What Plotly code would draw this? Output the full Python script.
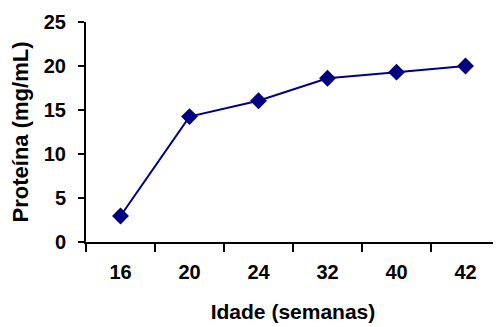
import plotly.graph_objects as go

categories = ["16", "20", "24", "32", "40", "42"]
values = [2.95, 14.25, 16.05, 18.6, 19.3, 20.0]
y_ticks = [0, 5, 10, 15, 20, 25]

navy = "#000080"
font_family = "Liberation Sans, Arial, sans-serif"

fig = go.Figure()
fig.add_trace(go.Scatter(
    x=categories, y=values, mode="lines+markers",
    line=dict(color=navy, width=2),
    marker=dict(symbol="diamond", size=13, color=navy),
    showlegend=False,
))

# page body has an 8px margin, so the figure is sized to end at the window edge
fig.update_layout(
    width=493, height=319,
    margin=dict(l=78, r=1, t=14, b=85),
    paper_bgcolor="white", plot_bgcolor="white",
    font=dict(family=font_family, size=20, color="black", weight="bold"),
)
fig.update_xaxes(
    type="category", range=[-0.5, 5.5], automargin=False,
    tickson="boundaries", ticks="outside", ticklen=8, tickwidth=2, tickcolor="black",
    showline=True, linecolor="black", linewidth=2, showgrid=False, zeroline=False,
    tickfont=dict(family=font_family, size=20, color="black", weight="bold"),
    ticklabelstandoff=11,
    title=dict(text="<b>Idade (semanas)</b>", font=dict(size=21, weight="bold"), standoff=22),
)
fig.update_yaxes(
    range=[0, 25], tickvals=y_ticks, automargin=False,
    ticks="outside", ticklen=6, tickwidth=2, tickcolor="black",
    showline=True, linecolor="black", linewidth=2, showgrid=False, zeroline=False,
    tickfont=dict(family=font_family, size=20, color="black", weight="bold"),
    ticklabelstandoff=8,
    title=dict(text="<b>Proteína (mg/mL)</b>", font=dict(size=22, weight="bold"), standoff=12),
)

fig.write_html("out.html")
